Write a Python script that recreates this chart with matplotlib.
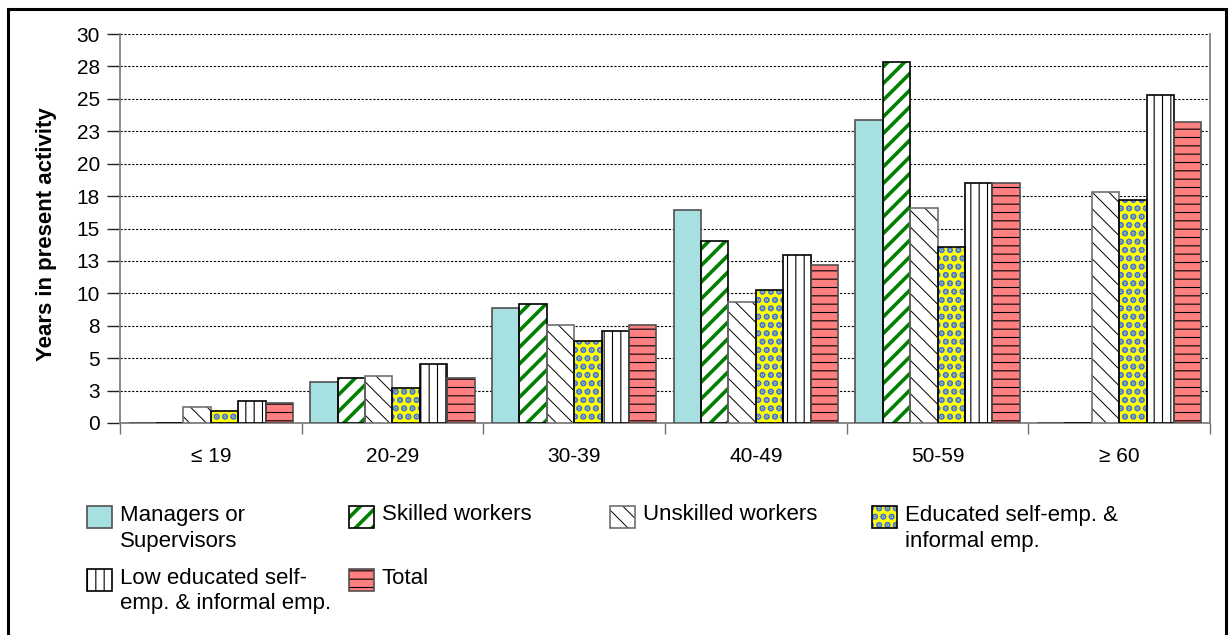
import matplotlib
matplotlib.use('Agg')
import matplotlib.pyplot as plt
from matplotlib.patches import Rectangle
import numpy as np

plt.rcParams['font.family'] = ['Liberation Sans', 'DejaVu Sans']

age_groups = ['≤ 19', '20-29', '30-39', '40-49', '50-59', '≥ 60']
managers = [0, 3.14, 8.87, 16.42, 23.38, 0]
skilled = [0, 3.45, 9.17, 14.03, 27.83, 0]
unskilled = [1.21, 3.60, 7.58, 9.30, 16.58, 17.81]
educated = [0.90, 2.68, 6.32, 10.28, 13.59, 17.22]
low_educated = [1.72, 4.57, 7.09, 12.92, 18.50, 25.26]
total = [1.57, 3.45, 7.58, 12.18, 18.50, 23.25]

y_ticks = [0, 2.5, 5, 7.5, 10, 12.5, 15, 17.5, 20, 22.5, 25, 27.5, 30]
y_tick_labels = ['0', '3', '5', '8', '10', '13', '15', '18', '20', '23', '25', '28', '30']

# name, values, face, hatch, hatch colour, outline colour, hatch width
series = [
    ('Managers or\nSupervisors', managers, '#A6E0E0', None, None, '#505050', 1.0),
    ('Skilled workers', skilled, 'white', '//', '#008000', 'black', 2.6),
    ('Unskilled workers', unskilled, 'white', '\\\\', 'black', '#707070', 0.7),
    ('Educated self-emp. &\ninformal emp.', educated, '#FFFF00', '..', '#3F6FE8', 'black', 3.2),
    ('Low educated self-\nemp. & informal emp.', low_educated, 'white', '||', 'black', 'black', 0.8),
    ('Total', total, '#FF8080', '--', 'black', '#505050', 0.8),
]

W, H = 1230, 635
fig = plt.figure(figsize=(W / 100, H / 100), dpi=100)
ax = fig.add_axes([120 / W, 1 - 423 / H, 1090 / W, 389 / H])


def hatch_width(p, lw):
    if hasattr(p, 'set_hatch_linewidth'):
        p.set_hatch_linewidth(lw)


x = np.arange(len(age_groups))
w = 0.151
for j, (name, vals, face, hatch, hcol, ecol, hlw) in enumerate(series):
    pos = x + (j - 2.5) * w
    plt.rcParams['hatch.linewidth'] = hlw
    if hatch:
        bars = ax.bar(pos, vals, w, color=face, edgecolor=hcol, hatch=hatch, linewidth=0, zorder=3)
        for b in bars:
            hatch_width(b, hlw)
    else:
        ax.bar(pos, vals, w, color=face, linewidth=0, zorder=3)
    ax.bar(pos, vals, w, fill=False, edgecolor=ecol, linewidth=1.2, zorder=4)

ax.set_xlim(-0.5, 5.5)
ax.set_ylim(0, 30)
ax.set_yticks(y_ticks)
ax.set_yticklabels(y_tick_labels, fontsize=15)
ax.tick_params(axis='y', length=9.5, width=1, color='#202020', pad=5)

ax.set_xticks(np.arange(-0.5, 6, 1))
ax.set_xticklabels([])
ax.set_xticks(x, minor=True)
ax.set_xticklabels(age_groups, minor=True, fontsize=15)
ax.tick_params(axis='x', which='major', length=8, width=1, color='#707070')
ax.tick_params(axis='x', which='minor', length=0, pad=17)

ax.yaxis.grid(True, color='black', linestyle=(0, (2, 1.5)), linewidth=0.8)
ax.set_axisbelow(True)
ax.spines['top'].set_visible(False)
for s in ['left', 'bottom', 'right']:
    ax.spines[s].set_color('#808080')
    ax.spines[s].set_linewidth(1.3)

fig.text(47 / W, 1 - 234 / H, 'Years in present activity', rotation=90,
         fontsize=16, fontweight='bold', ha='center', va='center')

# legend in fixed columns / rows like the source
col_x = [87, 349, 610, 872]
row_top = [506, 569]
slots = [(0, 0), (1, 0), (2, 0), (3, 0), (0, 1), (1, 1)]
for (name, vals, face, hatch, hcol, ecol, hlw), (c, r) in zip(series, slots):
    hx, hy = col_x[c], row_top[r]
    box = (hx / W, 1 - (hy + 22) / H)
    bw, bh = 25 / W, 22 / H
    if hatch:
        p = Rectangle(box, bw, bh, transform=fig.transFigure, facecolor=face,
                      edgecolor=hcol, hatch=hatch, linewidth=0)
        hatch_width(p, hlw)
        fig.add_artist(p)
        fig.add_artist(Rectangle(box, bw, bh, transform=fig.transFigure, fill=False,
                                 edgecolor=ecol, linewidth=1.2))
    else:
        fig.add_artist(Rectangle(box, bw, bh, transform=fig.transFigure, facecolor=face,
                                 edgecolor=ecol, linewidth=1.2))
    for k, line in enumerate(name.split('\n')):
        fig.text((hx + 33) / W, 1 - (hy + 9 + 26 * k) / H, line, fontsize=16,
                 ha='left', va='center')

fig.add_artist(Rectangle((8 / W, -0.05), 1218 / W, 1.05 - 9 / H,
                         transform=fig.transFigure, fill=False,
                         edgecolor='black', linewidth=2.2))

fig.savefig('out.png', dpi=100)
